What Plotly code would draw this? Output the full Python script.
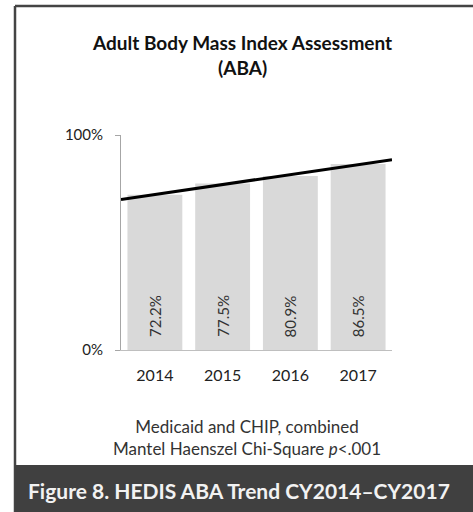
import numpy as np
import plotly.graph_objects as go

# Data
years = ["2014", "2015", "2016", "2017"]
rates = [72.2, 77.5, 80.9, 86.5]
rate_labels = ["72.2%", "77.5%", "80.9%", "86.5%"]
y_tickvals = [0, 100]
y_ticktext = ["0%", "100%"]

W, H = 473, 512
L, R, T, B = 121, 81, 135, 162
PW, PH = W - L - R, H - T - B
FONT = "Lato, 'Open Sans', sans-serif"


def px(x):
    return (x - L) / PW


def py(y):
    return (H - B - y) / PH


xs = np.arange(len(years))
slope, intercept = np.polyfit(xs, rates, 1)
trend_x = np.array([-0.5, len(years) - 0.5])
trend_y = intercept + slope * trend_x

fig = go.Figure()
fig.add_trace(go.Bar(
    x=xs, y=rates, width=0.81, marker=dict(color="#d9d9d9", line=dict(width=0)),
    hoverinfo="skip", showlegend=False,
))
fig.add_trace(go.Scatter(
    x=trend_x, y=trend_y, mode="lines", line=dict(color="#000000", width=3),
    hoverinfo="skip", showlegend=False,
))

# Value labels, rotated, sitting near the base of each bar
for xi, lab in zip(xs, rate_labels):
    fig.add_annotation(x=xi, y=0, yshift=11, text=lab, textangle=-90, showarrow=False,
                       xanchor="center", yanchor="bottom",
                       font=dict(family=FONT, size=15, color="#333333"))

shapes = [
    # outer frame (top and left edges)
    dict(type="line", xref="paper", yref="paper", x0=px(15), x1=px(W + 5), y0=py(6), y1=py(6),
         line=dict(color="#444444", width=2.5)),
    dict(type="line", xref="paper", yref="paper", x0=px(15), x1=px(15), y0=py(6), y1=py(H + 5),
         line=dict(color="#444444", width=2.5)),
    # caption band
    dict(type="rect", xref="paper", yref="paper", x0=px(15), x1=px(W + 5), y0=py(465), y1=py(H + 5),
         fillcolor="#404040", line=dict(width=0), layer="above"),
]

annotations = [
    dict(text="<b>Adult Body Mass Index Assessment</b><br><b>(ABA)</b>", x=px(242), y=py(55),
         xanchor="center", yanchor="middle", font=dict(family=FONT, size=19, color="#111111")),
    dict(text="Medicaid and CHIP, combined<br>Mantel Haenszel Chi-Square <i>p</i>&lt;.001",
         x=px(247), y=py(437), xanchor="center", yanchor="middle",
         font=dict(family=FONT, size=17, color="#333333")),
    dict(text="<b>Figure 8. HEDIS ABA Trend CY2014\u2013CY2017</b>", x=px(239), y=py(490),
         xanchor="center", yanchor="middle", font=dict(family=FONT, size=21, color="#f2f2f2")),
]
for a in annotations:
    a.update(xref="paper", yref="paper", showarrow=False)
    fig.add_annotation(**a)

fig.update_layout(
    width=W, height=H, margin=dict(l=L, r=R, t=T, b=B, pad=0),
    paper_bgcolor="white", plot_bgcolor="white",
    shapes=shapes, bargap=0.19,
    font=dict(family=FONT, size=15, color="#333333"),
    xaxis=dict(range=[-0.5, len(years) - 0.5], tickvals=list(xs), ticktext=years,
               showgrid=False, zeroline=False, showline=True, linecolor="#bfbfbf", linewidth=1,
               ticks="", ticklabelstandoff=11, fixedrange=True,
               tickfont=dict(family=FONT, size=16, color="#222222")),
    yaxis=dict(range=[0, 100], tickvals=y_tickvals, ticktext=y_ticktext,
               showgrid=False, zeroline=False, showline=True, linecolor="#a6a6a6", linewidth=1,
               ticks="outside", ticklen=5, tickcolor="#a6a6a6", ticklabelstandoff=9,
               fixedrange=True, tickfont=dict(family=FONT, size=15, color="#222222")),
)

fig.write_html("out.html")
